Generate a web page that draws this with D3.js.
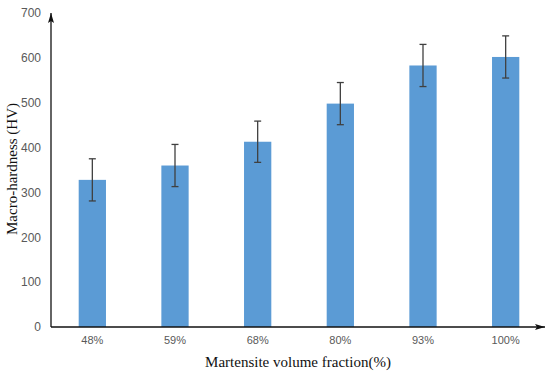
<!DOCTYPE html>
<html>
<head>
<meta charset="utf-8">
<script src="https://cdn.jsdelivr.net/npm/d3@7"></script>
<style>
  body { margin: 0; background: #fff; }
  .tick text { fill: #595959; font-family: 'Liberation Sans', Arial, sans-serif; }
  .titulo { font-family: 'Liberation Serif', 'Times New Roman', serif; font-size: 15px; fill: #111; }
</style>
</head>
<body>
<div id="graf"></div>
<script>
// datos
const fracciones = ['48%', '59%', '68%', '80%', '93%', '100%']
const dureza = [328, 360, 413, 498, 583, 602]
const errores = [47, 47, 46, 47, 47, 47]
const yTicks = [0, 100, 200, 300, 400, 500, 600, 700]

const anchoTotal = 550
const altoTotal = 374

const svg = d3.select('#graf')
  .append('svg')
  .attr('width', anchoTotal)
  .attr('height', altoTotal)

const margin = { top: 13, bottom: 47, left: 51, right: 3 }
const ancho = 547 - margin.left
const alto = altoTotal - margin.top - margin.bottom

const g = svg.append('g')
  .attr('transform', `translate(${margin.left}, ${margin.top})`)

// escaladores
const x = d3.scaleBand().domain(fracciones).range([0, ancho]).paddingInner(0.67).paddingOuter(0.335)
const y = d3.scaleLinear().domain([0, 700]).range([alto, 0])

// barras
g.selectAll('rect.barra')
  .data(dureza)
  .enter()
  .append('rect')
  .attr('class', 'barra')
  .attr('x', (d, i) => x(fracciones[i]))
  .attr('y', (d) => y(d))
  .attr('width', x.bandwidth())
  .attr('height', (d) => alto - y(d))
  .attr('fill', '#5b9bd5')

// barras de error
const err = g.selectAll('g.err')
  .data(dureza)
  .enter()
  .append('g')
  .attr('class', 'err')
  .attr('stroke', '#404040')
  .attr('stroke-width', 1.3)

const cx = (i) => x(fracciones[i]) + x.bandwidth() / 2
err.append('line')
  .attr('x1', (d, i) => cx(i)).attr('x2', (d, i) => cx(i))
  .attr('y1', (d, i) => y(d - errores[i])).attr('y2', (d, i) => y(d + errores[i]))
err.append('line')
  .attr('x1', (d, i) => cx(i) - 3.5).attr('x2', (d, i) => cx(i) + 3.5)
  .attr('y1', (d, i) => y(d + errores[i])).attr('y2', (d, i) => y(d + errores[i]))
err.append('line')
  .attr('x1', (d, i) => cx(i) - 3.5).attr('x2', (d, i) => cx(i) + 3.5)
  .attr('y1', (d, i) => y(d - errores[i])).attr('y2', (d, i) => y(d - errores[i]))

// ejes
const ejeY = g.append('g')
  .call(d3.axisLeft(y).tickValues(yTicks).tickSize(0).tickPadding(10))
ejeY.select('.domain').remove()
ejeY.selectAll('text').style('font-size', '12px')

const ejeX = g.append('g')
  .attr('transform', `translate(0, ${alto})`)
  .call(d3.axisBottom(x).tickSize(0).tickPadding(9))
ejeX.select('.domain').remove()
ejeX.selectAll('text').style('font-size', '11px')

// flechas
svg.append('defs').append('marker')
  .attr('id', 'flecha')
  .attr('viewBox', '0 0 10 6')
  .attr('refX', 10).attr('refY', 3)
  .attr('markerWidth', 10).attr('markerHeight', 6)
  .attr('markerUnits', 'userSpaceOnUse')
  .attr('orient', 'auto')
  .append('path')
  .attr('d', 'M0,0 L10,3 L0,6 L2,3 Z')
  .attr('fill', '#111')

g.append('line')
  .attr('x1', 0).attr('y1', alto).attr('x2', 0).attr('y2', 0)
  .attr('stroke', '#111').attr('stroke-width', 1.3)
  .attr('marker-end', 'url(#flecha)')
g.append('line')
  .attr('x1', 0).attr('y1', alto).attr('x2', 545 - margin.left).attr('y2', alto)
  .attr('stroke', '#111').attr('stroke-width', 1.3)
  .attr('marker-end', 'url(#flecha)')

// titulos
svg.append('text')
  .attr('class', 'titulo')
  .attr('text-anchor', 'middle')
  .attr('transform', 'translate(17, 169) rotate(-90)')
  .text('Macro-hardness (HV)')

svg.append('text')
  .attr('class', 'titulo')
  .attr('text-anchor', 'middle')
  .attr('x', 298)
  .attr('y', 367)
  .text('Martensite volume fraction(%)')
</script>
</body>
</html>
